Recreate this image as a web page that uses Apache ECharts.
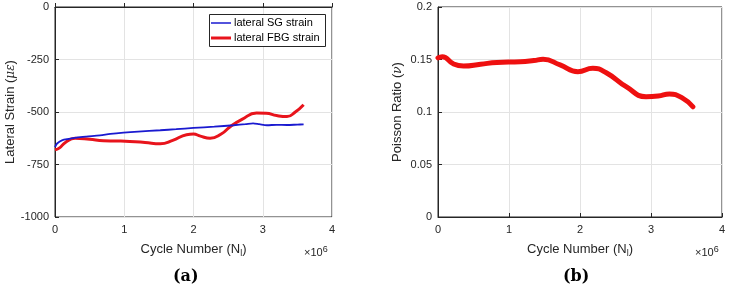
<!DOCTYPE html>
<html>
<head>
<meta charset="utf-8">
<script src="https://cdn.jsdelivr.net/npm/echarts@6/dist/echarts.min.js"></script>
<style>
  html, body { margin: 0; padding: 0; background: #fff; }
  #chart { width: 730px; height: 290px; }
</style>
</head>
<body>
<div id="chart"></div>
<script>
// cycles in units of 1e6
var sgX = [0, 0.03, 0.1, 0.2, 0.31, 0.45, 0.65, 0.8, 0.99, 1.2, 1.52, 1.75, 2.0, 2.3, 2.58, 2.75, 2.86, 2.95, 3.06, 3.2, 3.35, 3.5, 3.59];
var sgY = [-667, -650, -635, -628, -622, -617, -611, -604, -598, -593, -587, -582, -576, -570, -563, -558, -554, -558, -563, -561, -562, -560, -559];

var fbgX = [0, 0.06, 0.15, 0.29, 0.5, 0.7, 0.89, 1.08, 1.3, 1.52, 1.7, 1.9, 2.0, 2.1, 2.24, 2.4, 2.53, 2.7, 2.91, 3.05, 3.2, 3.35, 3.47, 3.59];
var fbgY = [-680, -672, -645, -625, -630, -637, -638, -640, -645, -651, -635, -608, -605, -615, -625, -605, -570, -535, -505, -506, -517, -522, -500, -465];

var prX = [0, 0.06, 0.22, 0.36, 0.6, 0.83, 1.16, 1.35, 1.48, 1.72, 1.97, 2.18, 2.37, 2.65, 2.93, 3.1, 3.26, 3.45, 3.59];
var prY = [0.1515, 0.1527, 0.1457, 0.1438, 0.1455, 0.1472, 0.1478, 0.149, 0.1502, 0.1448, 0.1384, 0.1416, 0.1374, 0.1241, 0.1146, 0.1152, 0.1172, 0.113, 0.105];

function pairs(xs, ys) {
  return xs.map(function (x, i) { return [x, ys[i]]; });
}

var mychart = echarts.init(document.getElementById('chart'));
var font = 'Liberation Sans, Arial, sans-serif';
var textColor = '#262626';
var blue = '#1a1ad0';
var red = '#e8141c';

function xAxisCfg(idx) {
  return {
    type: 'value',
    gridIndex: idx,
    min: 0,
    max: 4,
    interval: 1,
    name: 'Cycle Number (N{sub|l})',
    nameLocation: 'middle',
    nameGap: 24,
    nameTextStyle: {
      color: textColor, fontFamily: font, fontSize: 13,
      rich: { sub: { fontSize: 9, verticalAlign: 'bottom', padding: [8, 0, 0, 0], color: textColor, fontFamily: font } }
    },
    axisLine: { show: true, lineStyle: { color: '#262626', width: 1 } },
    axisTick: { show: true, inside: true, length: 4, lineStyle: { color: '#262626' } },
    axisLabel: { color: textColor, fontFamily: font, fontSize: 11, margin: 7 },
    splitLine: { show: true, lineStyle: { color: '#e3e3e3', width: 1 } }
  };
}

function yAxisCfg(idx, min, max, step, name, gap) {
  return {
    type: 'value', gridIndex: idx, min: min, max: max, interval: step,
    name: name,
    nameLocation: 'middle', nameGap: gap,
    nameTextStyle: {
      color: textColor, fontFamily: font, fontSize: 13,
      rich: { it: { fontStyle: 'italic', fontFamily: 'DejaVu Serif, serif', fontSize: 12, color: textColor } }
    },
    axisLine: { show: true, lineStyle: { color: '#262626' } },
    axisTick: { show: true, inside: true, length: 4, lineStyle: { color: '#262626' } },
    axisLabel: { color: textColor, fontFamily: font, fontSize: 11, margin: 6, formatter: function (v) { return String(v); } },
    splitLine: { show: true, lineStyle: { color: '#e3e3e3' } }
  };
}

function legendCfg(name, top, h, color) {
  return {
    show: true, left: 211, top: top, z: 10,
    itemWidth: 20, itemHeight: h, padding: 0,
    icon: 'rect',
    textStyle: { color: '#000', fontFamily: font, fontSize: 11, padding: [0, 0, 0, -2] },
    data: [{ name: name, icon: 'rect', itemStyle: { color: color } }]
  };
}

var supText = {
  text: '×10{sup|6}', fill: textColor, font: '11px Liberation Sans',
  rich: { sup: { fontSize: 9, verticalAlign: 'top', padding: [0, 0, 6, 0], fill: textColor } }
};

var option = {
  animation: false,
  grid: [
    { left: 55, right: 398, top: 7, bottom: 73, show: true, borderColor: '#262626', borderWidth: 1, backgroundColor: '#fff' },
    { left: 438, right: 8, top: 7, bottom: 73, show: true, borderColor: '#262626', borderWidth: 1, backgroundColor: '#fff' }
  ],
  xAxis: [xAxisCfg(0), xAxisCfg(1)],
  yAxis: [
    yAxisCfg(0, -1000, 0, 250, 'Lateral Strain ({it|με})', 32),
    yAxisCfg(1, 0, 0.2, 0.05, 'Poisson Ratio ({it|ν})', 34)
  ],
  legend: [
    legendCfg('lateral SG strain', 17.5, 1.5, blue),
    legendCfg('lateral FBG strain', 32.5, 3, red)
  ],
  series: [
    {
      name: 'lateral SG strain', type: 'line', xAxisIndex: 0, yAxisIndex: 0,
      data: pairs(sgX, sgY), symbol: 'none', smooth: 0.3,
      lineStyle: { color: blue, width: 1.8 }, itemStyle: { color: blue }, z: 3
    },
    {
      name: 'lateral FBG strain', type: 'line', xAxisIndex: 0, yAxisIndex: 0,
      data: pairs(fbgX, fbgY), symbol: 'none', smooth: 0.5,
      lineStyle: { color: red, width: 3 }, itemStyle: { color: red }, z: 2
    },
    {
      name: 'Poisson', type: 'line', xAxisIndex: 1, yAxisIndex: 1,
      data: pairs(prX, prY), symbol: 'none', smooth: 0.5,
      lineStyle: { color: '#ee1010', width: 5, cap: 'round' }, itemStyle: { color: '#ee1010' }
    }
  ],
  graphic: [
    { type: 'rect', left: 209, top: 14, z: 5, shape: { width: 116, height: 32 }, style: { fill: '#fff', stroke: '#262626', lineWidth: 1 } },
    { type: 'text', left: 304, top: 245, style: supText },
    { type: 'text', left: 695, top: 245, style: supText },
    { type: 'text', left: 173, top: 269, style: { text: '(a)', fill: '#000', font: 'bold 16px DejaVu Serif' } },
    { type: 'text', left: 563, top: 269, style: { text: '(b)', fill: '#000', font: 'bold 16px DejaVu Serif' } }
  ]
};
mychart.setOption(option);
</script>
</body>
</html>
